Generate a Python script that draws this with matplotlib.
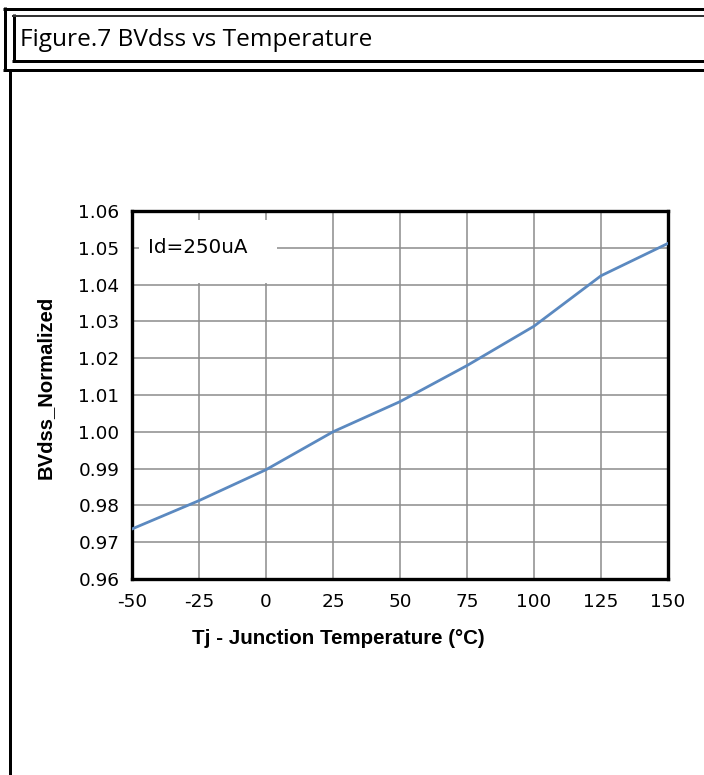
import matplotlib
matplotlib.use('Agg')
import matplotlib.pyplot as plt
from matplotlib.lines import Line2D
from matplotlib.patches import Rectangle

# data
temps = [-50, -25, 0, 25, 50, 75, 100, 125, 150]
bvdss = [0.9736, 0.9813, 0.9897, 1.0000, 1.0082, 1.0180, 1.0287, 1.0424, 1.0512]

x_ticks = [-50, -25, 0, 25, 50, 75, 100, 125, 150]
y_ticks = [0.96, 0.97, 0.98, 0.99, 1.00, 1.01, 1.02, 1.03, 1.04, 1.05, 1.06]

title = "Figure.7 BVdss vs Temperature"
xlabel = "Tj - Junction Temperature (°C)"
ylabel = "BVdss_Normalized"
note = "Id=250uA"

W, H = 704, 775
fig = plt.figure(figsize=(W / 100, H / 100), dpi=100)


def px_line(x0, y0, x1, y1, lw, color='black'):
    # line given in pixel coords, origin top-left
    fig.add_artist(Line2D([x0 / W, x1 / W], [1 - y0 / H, 1 - y1 / H],
                          transform=fig.transFigure, color=color,
                          linewidth=lw * 0.72, solid_capstyle='butt'))


# title frame (double border)
px_line(3, 8.5, W, 8.5, 3)
px_line(4.5, 7, 4.5, 71, 3)
px_line(3, 69.5, W, 69.5, 3)
px_line(13.5, 14, 13.5, 62, 3)
px_line(12, 15.5, W, 15.5, 2, '#333333')
px_line(12, 61, W, 61, 3)
px_line(9.5, 70, 9.5, H, 3)

fig.text(20 / W, 1 - 40 / H, title, fontsize=17.6, family='Open Sans',
         va='center', ha='left')

# plot area
left, right, top, bottom = 132, 668, 211, 579
ax = fig.add_axes([left / W, 1 - bottom / H, (right - left) / W, (bottom - top) / H])
ax.plot(temps, bvdss, color='#5b89c0', linewidth=2.0, zorder=3)
ax.set_xlim(-50, 150)
ax.set_ylim(0.96, 1.06)
ax.set_xticks(x_ticks)
ax.set_yticks(y_ticks)
ax.set_xticklabels([str(t) for t in x_ticks])
ax.set_yticklabels([f"{v:.2f}" for v in y_ticks])
ax.tick_params(length=0, labelsize=13.3, pad=9)
ax.tick_params(axis='x', pad=10)
ax.grid(True, color='#8c8c8c', linewidth=1.1)
ax.set_axisbelow(True)
for s in ax.spines.values():
    s.set_linewidth(2.4)
    s.set_color('black')

# white box behind the current note
ax.add_patch(Rectangle((0.013, 0.804), 0.257, 0.172, transform=ax.transAxes,
                       facecolor='white', edgecolor='none', zorder=1))
ax.text(0.03, 0.90, note, transform=ax.transAxes, fontsize=14.3,
        va='center', ha='left', zorder=4)

ax.set_xlabel(xlabel, fontsize=14.8, fontweight='bold', family='Liberation Sans',
              va='center', ha='center')
ax.set_ylabel(ylabel, fontsize=14.6, fontweight='bold', family='Liberation Sans',
              va='center', ha='center')
ax.xaxis.set_label_coords(0.384, -0.163)
ax.yaxis.set_label_coords(-0.162, 0.522)

fig.savefig('out.png', dpi=100)
